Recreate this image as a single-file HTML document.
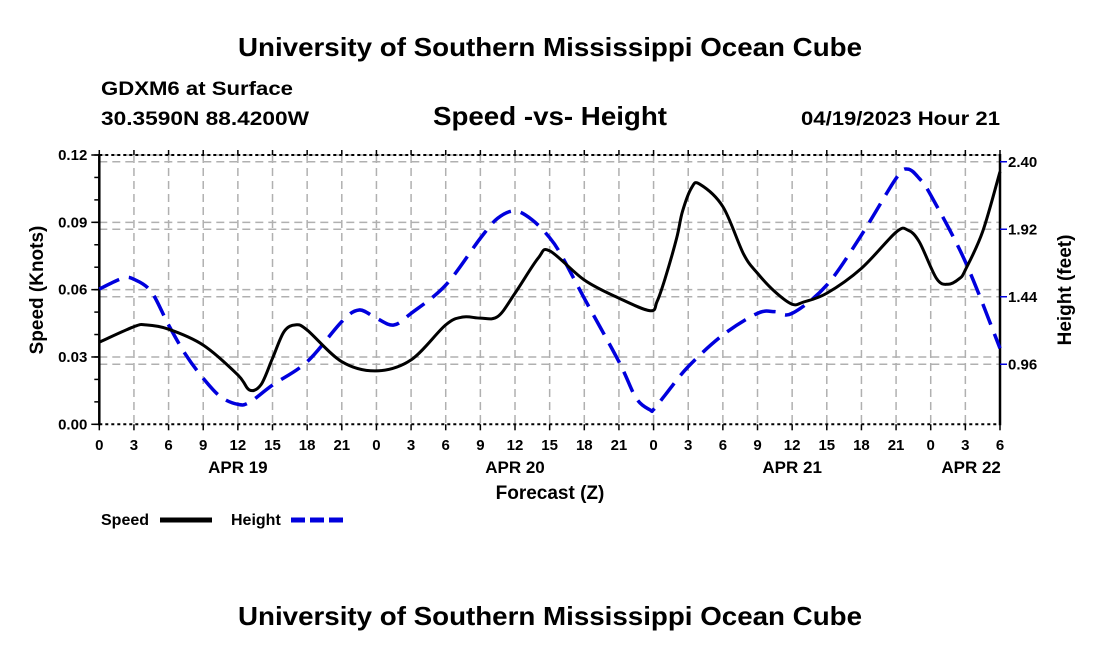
<!DOCTYPE html>
<html><head><meta charset="utf-8"><style>
html,body{margin:0;padding:0;background:#fff;}
svg{display:block;font-family:"Liberation Sans",sans-serif;font-weight:bold;}
</style></head><body>
<svg id="chart" width="1100" height="650" viewBox="0 0 1100 650">
<text x="550" y="56" text-anchor="middle" font-size="26" textLength="624" lengthAdjust="spacingAndGlyphs">University of Southern Mississippi Ocean Cube</text>
<text x="101" y="95" font-size="19" textLength="192" lengthAdjust="spacingAndGlyphs">GDXM6 at Surface</text>
<text x="101" y="125" font-size="19" textLength="208" lengthAdjust="spacingAndGlyphs">30.3590N  88.4200W</text>
<text x="550" y="125" text-anchor="middle" font-size="26" textLength="234" lengthAdjust="spacingAndGlyphs">Speed -vs- Height</text>
<text x="1000" y="125" text-anchor="end" font-size="19" textLength="199" lengthAdjust="spacingAndGlyphs">04/19/2023 Hour 21</text>
<g id="grid"></g>
<g id="axes"></g>
<g id="series"></g>
<text x="550" y="499" text-anchor="middle" font-size="19">Forecast (Z)</text>
<text transform="translate(43,290) rotate(-90)" text-anchor="middle" font-size="19">Speed (Knots)</text>
<text transform="translate(1071,290) rotate(-90)" text-anchor="middle" font-size="19">Height (feet)</text>
<g>
<text x="101" y="525" font-size="16">Speed</text>
<line x1="160" y1="520" x2="212" y2="520" stroke="#000" stroke-width="5"/>
<text x="231" y="525" font-size="16">Height</text>
<line x1="291" y1="520" x2="343" y2="520" stroke="#0000dd" stroke-width="5" stroke-dasharray="14,5"/>
</g>
<text x="550" y="625" text-anchor="middle" font-size="26" textLength="624" lengthAdjust="spacingAndGlyphs">University of Southern Mississippi Ocean Cube</text>
</svg>
<script>
const speedHours=[0,3,4,6,9,12,13,14,15,16,17,18,21,24,27,30,31.5,33,34.5,36,38,39,42,45,47.7,48.3,49,50,50.5,51.3,52,54,55.8,57,58.5,60,61,63,66,69,70,71,72.5,73.5,74.5,75,76.5,78];
const speedValues=[0.0366,0.0435,0.0443,0.0424,0.0353,0.022,0.0153,0.0176,0.0294,0.0413,0.0443,0.042,0.0279,0.0238,0.0287,0.0443,0.0478,0.0473,0.048,0.0584,0.074,0.0773,0.0643,0.0562,0.0506,0.0547,0.065,0.083,0.0948,0.1055,0.107,0.097,0.0758,0.0673,0.0591,0.0535,0.0545,0.0584,0.0695,0.0856,0.0866,0.0814,0.065,0.0624,0.065,0.0688,0.0859,0.1126];
const heightHours=[0,2,3,4.5,6,7.5,9,10.5,12,13,15,18,21,22.5,24,25.5,27,30,33,34.5,36,37.5,39,40,42,45,46.5,47.7,48,49,51,54,57,58.5,60,63,66,69,70,71,72,75,78];
const heightValues=[1.495,1.571,1.564,1.476,1.239,1.026,0.86,0.729,0.675,0.689,0.812,0.978,1.263,1.346,1.287,1.239,1.322,1.523,1.856,1.998,2.05,1.986,1.86,1.737,1.429,0.978,0.718,0.635,0.638,0.741,0.943,1.168,1.322,1.334,1.322,1.523,1.879,2.282,2.348,2.282,2.163,1.689,1.073];
const xTickLabels=["0","3","6","9","12","15","18","21","0","3","6","9","12","15","18","21","0","3","6","9","12","15","18","21","0","3","6"];
const dayLabels=["APR 19","APR 20","APR 21","APR 22"];
const dayLabelHours=[12,36,60,75.5];
const leftTicks=[0,0.03,0.06,0.09,0.12];
const leftTickLabels=["0.00","0.03","0.06","0.09","0.12"];
const rightTicks=[0.96,1.44,1.92,2.40];
const rightTickLabels=["0.96","1.44","1.92","2.40"];

const L=99.3,R=1000,T=155,B=424.3;
const xS=h=>L+(R-L)*h/78;
const yS=v=>B-(B-T)*v/0.12;
const yH=v=>B-(v-0.533)/(2.448-0.533)*(B-T);
const NS="http://www.w3.org/2000/svg";
function mk(tag,attrs,parent,text){const e=document.createElementNS(NS,tag);for(const k in attrs)e.setAttribute(k,attrs[k]);if(text!==undefined)e.textContent=text;parent.appendChild(e);return e;}
const grid=document.getElementById('grid'),axes=document.getElementById('axes'),series=document.getElementById('series');
for(let i=1;i<xTickLabels.length-1;i++){const x=xS(i*3);
 const g=mk('line',{x1:x,y1:T,x2:x,y2:B,stroke:'#b0b0b0','stroke-width':1.5,'stroke-dasharray':'8,5'},grid);
 
 }
leftTicks.forEach(v=>{if(v===0)return;const y=yS(v);
 const g=mk('line',{x1:L,y1:y,x2:R,y2:y,stroke:'#b0b0b0','stroke-width':1.5,'stroke-dasharray':'8,5'},grid);
 
 });
rightTicks.forEach(v=>{const y=yH(v);
 const g=mk('line',{x1:L,y1:y,x2:R,y2:y,stroke:'#b0b0b0','stroke-width':1.5,'stroke-dasharray':'8,5'},grid);
 
 });
let a=mk('line',{x1:L,y1:B,x2:R,y2:B,stroke:'#000','stroke-width':2,'stroke-dasharray':'3,3'},axes);


a=mk('line',{x1:L,y1:T,x2:R,y2:T,stroke:'#000','stroke-width':2,'stroke-dasharray':'3,3'},axes);


a=mk('line',{x1:L,y1:T-1,x2:L,y2:B+1,stroke:'#000','stroke-width':2.5},axes);


a=mk('line',{x1:R,y1:T-1,x2:R,y2:B+1,stroke:'#000','stroke-width':2.5},axes);


xTickLabels.forEach((t,i)=>{const x=xS(i*3);
 mk('line',{x1:x,y1:B,x2:x,y2:B+6,stroke:'#000','stroke-width':1.5},axes);
 mk('line',{x1:x,y1:T,x2:x,y2:T-5,stroke:'#000','stroke-width':1.5},axes);
 const e=mk('text',{x:x,y:450,'text-anchor':'middle','font-size':15},axes,t);
 
 });
dayLabels.forEach((t,i)=>{
 const e=mk('text',{x:xS(dayLabelHours[i]),y:473,'text-anchor':'middle','font-size':17},axes,t);
 
 });
for(let v=0;v<=0.1201;v+=0.01){const y=yS(v);mk('line',{x1:L-5,y1:y,x2:L,y2:y,stroke:'#000','stroke-width':1.5},axes);}
leftTicks.forEach((v,i)=>{const y=yS(v);
 mk('line',{x1:L-8,y1:y,x2:L,y2:y,stroke:'#000','stroke-width':1.5},axes);
 const e=mk('text',{x:L-12,y:y+5,'text-anchor':'end','font-size':15},axes,leftTickLabels[i]);
 
 });
rightTicks.forEach((v,i)=>{const y=yH(v);
 mk('line',{x1:R,y1:y,x2:R+7,y2:y,stroke:'#0000dd','stroke-width':1.5},axes);
 const e=mk('text',{x:R+8,y:y+5,'font-size':15},axes,rightTickLabels[i]);
 
 });
function smooth(pts){let d='M'+pts[0][0]+','+pts[0][1];
 for(let i=0;i<pts.length-1;i++){const p0=pts[Math.max(0,i-1)],p1=pts[i],p2=pts[i+1],p3=pts[Math.min(pts.length-1,i+2)];
  const c1=[p1[0]+(p2[0]-p0[0])/6,p1[1]+(p2[1]-p0[1])/6],c2=[p2[0]-(p3[0]-p1[0])/6,p2[1]-(p3[1]-p1[1])/6];
  d+=' C'+c1[0]+','+c1[1]+' '+c2[0]+','+c2[1]+' '+p2[0]+','+p2[1];}
 return d;}
const hp=mk('path',{d:smooth(heightHours.map((h,i)=>[xS(h),yH(heightValues[i])])),fill:'none',stroke:'#0000dd','stroke-width':3.5,'stroke-dasharray':'22,10'},series);


const sp=mk('path',{d:smooth(speedHours.map((h,i)=>[xS(h),yS(speedValues[i])])),fill:'none',stroke:'#000','stroke-width':3},series);


</script>
</body></html>
